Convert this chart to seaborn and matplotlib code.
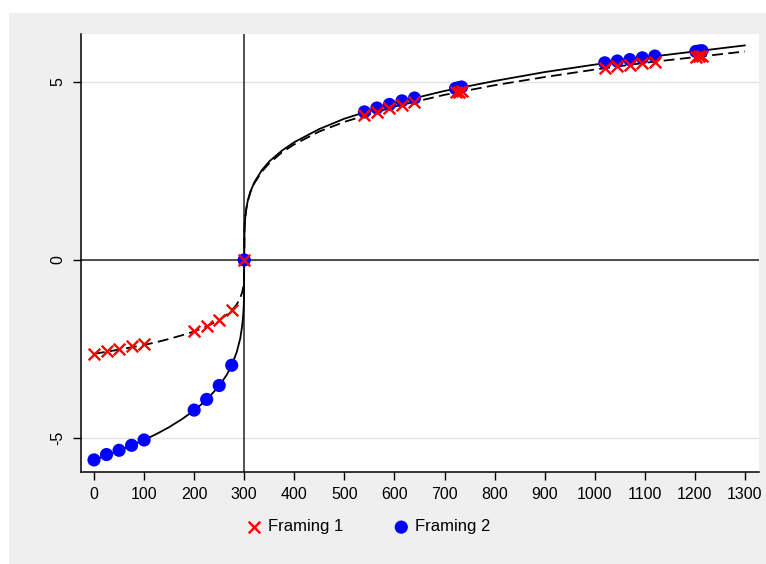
import numpy as np
import matplotlib.pyplot as plt
import matplotlib.patches as mpatches
import seaborn as sns
import pandas as pd

# observed points (outcome x, value v)
outcomes = [0, 25, 50, 75, 100, 200, 225, 250, 275, 300,
            540, 565, 590, 615, 640, 722, 728, 734,
            1020, 1045, 1070, 1095, 1120, 1202, 1208, 1214]
framing1 = [-2.64, -2.56, -2.50, -2.43, -2.37, -2.00, -1.86, -1.69, -1.42, 0,
            4.07, 4.17, 4.27, 4.36, 4.45, 4.71, 4.72, 4.74,
            5.39, 5.44, 5.49, 5.53, 5.57, 5.71, 5.72, 5.73]
framing2 = [-5.62, -5.47, -5.35, -5.21, -5.06, -4.22, -3.92, -3.53, -2.96, 0,
            4.16, 4.27, 4.37, 4.47, 4.55, 4.82, 4.84, 4.86,
            5.54, 5.59, 5.63, 5.68, 5.73, 5.86, 5.87, 5.88]

# fitted curves
curve_x = [0, 50, 100, 125, 150, 175, 200, 225, 250, 265, 275, 285, 292, 296, 298, 299, 299.5,
           300, 300.5, 301, 302, 304, 307, 312, 320, 335, 350, 375, 400, 450, 500,
           600, 700, 800, 900, 1000, 1100, 1200, 1300]
curve_solid = [-5.62, -5.36, -5.06, -4.89, -4.70, -4.48, -4.23, -3.93, -3.54, -3.23, -2.96,
               -2.59, -2.21, -1.84, -1.54, -1.29, -1.08,
               0, 0.84, 1.00, 1.20, 1.43, 1.66, 1.91, 2.18, 2.52, 2.77, 3.07, 3.31,
               3.68, 3.97, 4.41, 4.75, 5.03, 5.28, 5.49, 5.69, 5.86, 6.03]
curve_dashed = [-2.64, -2.52, -2.39, -2.31, -2.22, -2.12, -2.01, -1.87, -1.69, -1.54, -1.42,
                -1.25, -1.07, -0.90, -0.76, -0.64, -0.53,
                0, 0.84, 1.00, 1.19, 1.43, 1.65, 1.89, 2.15, 2.48, 2.72, 3.02, 3.25,
                3.61, 3.88, 4.31, 4.64, 4.91, 5.14, 5.35, 5.54, 5.70, 5.86]

x_ticks = list(range(0, 1301, 100))
y_ticks = [-5, 0, 5]
reference_point = 300

sns.set_style("white")
plt.rcParams['font.family'] = ['Liberation Sans', 'DejaVu Sans']
plt.rcParams['axes.unicode_minus'] = False
plt.rcParams['text.color'] = 'black'
plt.rcParams['xtick.color'] = 'black'
plt.rcParams['ytick.color'] = 'black'

fig = plt.figure(figsize=(7.66, 5.64), dpi=100, facecolor='white')
# grey outer panel
fig.patches.append(mpatches.Rectangle((9 / 766, 0), 1 - 9 / 766, 1 - 13 / 564,
                                      transform=fig.transFigure, facecolor='#efefef',
                                      edgecolor='none', zorder=-5))
ax = fig.add_axes([81 / 766, 1 - 472 / 564, (759 - 81) / 766, (472 - 34) / 564])
ax.set_zorder(2)
ax.set_facecolor('white')

curves = pd.DataFrame({'x': curve_x, 'solid': curve_solid, 'dashed': curve_dashed})
pts = pd.DataFrame({'x': outcomes, 'f1': framing1, 'f2': framing2})

for v in y_ticks:
    ax.axhline(v, color='#e3e3e3', lw=1, zorder=0)
ax.axhline(0, color='#222222', lw=1.1, zorder=1)
ax.axvline(reference_point, color='#222222', lw=1.1, zorder=1)

sns.lineplot(data=curves, x='x', y='solid', ax=ax, color='black', lw=1.3,
             estimator=None, sort=False, zorder=2)
sns.lineplot(data=curves, x='x', y='dashed', ax=ax, color='black', lw=1.3,
             estimator=None, sort=False, zorder=2)
ax.lines[-1].set_dashes((6, 3))

sns.scatterplot(data=pts, x='x', y='f2', ax=ax, color='#0000ff', marker='o', s=90,
                edgecolor='none', zorder=3, label='Framing 2')
sns.scatterplot(data=pts, x='x', y='f1', ax=ax, color='#ff0000', marker='x', s=70,
                linewidth=1.7, zorder=4, label='Framing 1')

ax.set_xlim(-26, 1328)
ax.set_ylim(-5.96, 6.35)
ax.set_xticks(x_ticks)
ax.set_yticks(y_ticks)
ax.set_yticklabels([str(v) for v in y_ticks], rotation=90, va='center')
ax.tick_params(axis='both', direction='out', length=6, width=1, color='black',
               labelsize=11.5, pad=5, bottom=True, left=True)
ax.set_xlabel('')
ax.set_ylabel('')
for side in ['top', 'right']:
    ax.spines[side].set_visible(False)
for side in ['left', 'bottom']:
    ax.spines[side].set_color('black')
    ax.spines[side].set_linewidth(1.1)

handles, labels = ax.get_legend_handles_labels()
order = [labels.index('Framing 1'), labels.index('Framing 2')]
ax.legend_.remove()
fig.legend([handles[i] for i in order], [labels[i] for i in order],
           loc='center', bbox_to_anchor=(368 / 766, 1 - 527 / 564), ncol=2,
           frameon=False, fontsize=12, handletextpad=0.3, columnspacing=3,
           handlelength=1)

fig.savefig('out.png', dpi=100, facecolor=fig.get_facecolor())
